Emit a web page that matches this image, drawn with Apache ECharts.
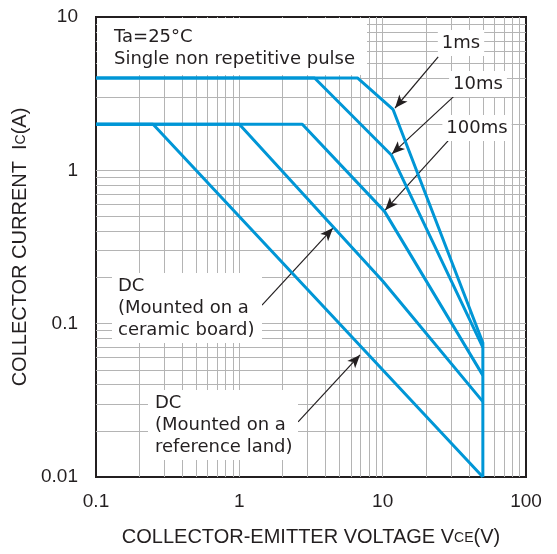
<!DOCTYPE html>
<html>
<head>
<meta charset="utf-8">
<script src="https://cdn.jsdelivr.net/npm/echarts@6/dist/echarts.min.js"></script>
<style>
  html, body { margin: 0; padding: 0; background: #fff; }
  #chart { width: 557px; height: 554px; }
</style>
</head>
<body>
<div id="chart"></div>
<script>
  // safe operating area
  const vce1ms = [0.1, 6.7, 11.8, 50, 50]
  const ic1ms = [4, 4, 2.5, 0.075, 0.01]
  const vce10ms = [0.1, 3.35, 11.5, 50]
  const ic10ms = [4, 4, 1.26, 0.07]
  const vce100ms = [0.1, 2.75, 10.3, 50]
  const ic100ms = [2, 2, 0.54, 0.046]
  const vceDcCeramic = [0.1, 1, 10, 50]
  const icDcCeramic = [2, 2, 0.19, 0.031]
  const vceDcRef = [0.1, 0.25, 50]
  const icDcRef = [2, 2, 0.01]

  // minor grid (log decades)
  const xGrid = [0.2, 0.3, 0.4, 0.5, 0.6, 0.7, 0.8, 0.9, 1, 2, 3, 4, 5, 6, 7, 8, 9, 10, 20, 30, 40, 50, 60, 70, 80, 90]
  const yGrid = [0.02, 0.03, 0.04, 0.05, 0.06, 0.07, 0.08, 0.09, 0.1, 0.2, 0.3, 0.4, 0.5, 0.6, 0.7, 0.8, 0.9, 1, 2, 3, 4, 5, 6, 7, 8, 9]

  // arrows: [from vce, from ic, to vce, to ic]
  const arrow1ms = [24.4, 5.5, 12.2, 2.55]
  const arrow10ms = [31.5, 3.05, 11.6, 1.28]
  const arrow100ms = [29, 1.58, 10.4, 0.55]
  const arrowCeramic = [1.44, 0.132, 4.5, 0.42]
  const arrowRef = [2.57, 0.0229, 6.95, 0.0625]

  const blue = '#0096d6'
  const ink = '#231f20'
  const font = '"Liberation Sans", Arial, sans-serif'
  const noteFont = '"DejaVu Sans", sans-serif'

  const zip = (xs, ys) => xs.map((x, i) => [x, ys[i]])

  function curve(name, xs, ys) {
    return {
      name: name,
      type: 'line',
      data: zip(xs, ys),
      showSymbol: false,
      symbol: 'none',
      z: 5,
      lineStyle: { color: blue, width: 3 }
    }
  }

  function arrow(a) {
    return [
      { coord: [a[0], a[1]] },
      { coord: [a[2], a[3]] }
    ]
  }

  function note(text, x, y, align) {
    return {
      type: 'text',
      x: x,
      y: y,
      z: 20,
      style: {
        text: text,
        font: '18px ' + noteFont,
        fill: ink,
        align: align || 'center',
        verticalAlign: 'middle',
        lineHeight: 22,
        backgroundColor: '#fff',
        padding: [2, 4]
      }
    }
  }

  function box(x, y, w, h) {
    return { type: 'rect', z: 19, shape: { x: x, y: y, width: w, height: h }, style: { fill: '#fff' } }
  }

  const option = {
    animation: false,
    backgroundColor: '#fff',
    grid: {
      left: 96, right: 31, top: 17, bottom: 77,
      show: true, borderColor: ink, borderWidth: 2
    },
    xAxis: {
      type: 'log', logBase: 10, min: 0.1, max: 100,
      name: 'COLLECTOR-EMITTER VOLTAGE V{s|CE}(V)',
      nameLocation: 'middle', nameGap: 50,
      nameTextStyle: {
        fontFamily: font, fontSize: 20, color: ink,
        rich: { s: { fontFamily: font, fontSize: 14, color: ink, padding: [3, 0, 0, 0] } }
      },
      axisLine: { show: false },
      axisTick: { show: false },
      splitLine: { show: false },
      axisLabel: { fontFamily: font, fontSize: 19, color: ink, margin: 15 }
    },
    yAxis: {
      type: 'log', logBase: 10, min: 0.01, max: 10,
      name: 'COLLECTOR CURRENT  I{s|C}(A)',
      nameLocation: 'middle', nameGap: 62,
      nameTextStyle: {
        fontFamily: font, fontSize: 20, color: ink,
        rich: { s: { fontFamily: font, fontSize: 14, color: ink, padding: [3, 0, 0, 0] } }
      },
      axisLine: { show: false },
      axisTick: { show: false },
      splitLine: { show: false },
      axisLabel: { fontFamily: font, fontSize: 19, color: ink, margin: 18 }
    },
    series: [
      {
        type: 'line',
        data: [],
        z: 1,
        silent: true,
        markLine: {
          silent: true,
          symbol: 'none',
          label: { show: false },
          lineStyle: { color: '#b4b4b4', width: 1, type: 'solid' },
          data: xGrid.map(v => ({ xAxis: v })).concat(yGrid.map(v => ({ yAxis: v })))
        }
      },
      curve('1ms', vce1ms, ic1ms),
      curve('10ms', vce10ms, ic10ms),
      curve('100ms', vce100ms, ic100ms),
      curve('DC ceramic', vceDcCeramic, icDcCeramic),
      curve('DC reference land', vceDcRef, icDcRef),
      {
        type: 'line',
        data: [],
        z: 8,
        silent: true,
        markLine: {
          silent: true,
          symbol: ['none', 'arrow'],
          symbolSize: [8, 13],
          label: { show: false },
          itemStyle: { color: ink },
          lineStyle: { color: ink, width: 1.2, type: 'solid' },
          data: [arrow(arrow1ms), arrow(arrow10ms), arrow(arrow100ms), arrow(arrowCeramic), arrow(arrowRef)]
        }
      }
    ],
    graphic: [
      box(97, 18, 270, 57),
      note('Ta=25°C\nSingle non repetitive pulse', 110, 48, 'left'),
      note('1ms', 461, 43),
      note('10ms', 478, 84),
      note('100ms', 477, 128),
      box(112, 275, 150, 65),
      note('DC\n(Mounted on a\nceramic board)', 114, 308, 'left'),
      box(148, 393, 150, 62),
      note('DC\n(Mounted on a\nreference land)', 151, 425, 'left')
    ]
  }

  const chart = echarts.init(document.getElementById('chart'))
  chart.setOption(option)
</script>
</body>
</html>
